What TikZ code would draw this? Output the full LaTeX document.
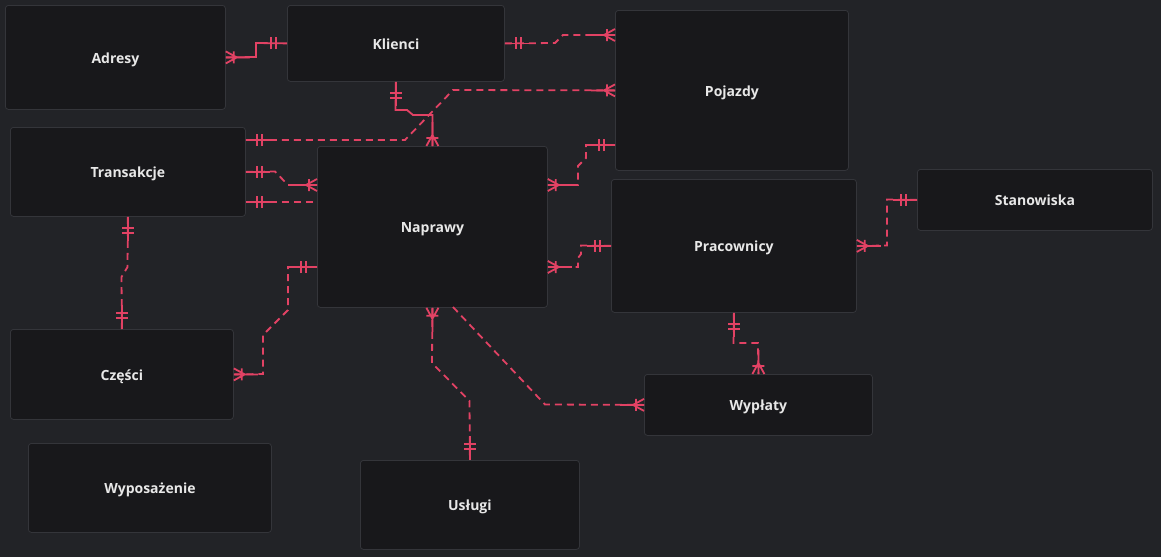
\documentclass[tikz,border=0pt]{standalone}
\usepackage{fontspec}
\setmainfont{Open Sans}
\usetikzlibrary{calc}
\definecolor{bg}{RGB}{34,35,39}
\definecolor{boxfill}{RGB}{24,24,27}
\definecolor{boxline}{RGB}{52,53,58}
\definecolor{relc}{RGB}{226,66,100}
\definecolor{txt}{RGB}{232,232,232}
\tikzset{
  entity/.style={draw=boxline, fill=boxfill, rounded corners=3pt, line width=0.8pt,
    text=txt, font=\fontsize{14}{16}\selectfont\bfseries, inner sep=0pt, anchor=north west,
    text height=12pt, text depth=0pt},
  relsolid/.style={draw=relc, line width=1.8pt},
  reldash/.style={draw=relc, line width=1.8pt, dash pattern=on 7pt off 5pt},
  bars/.pic={\draw[relc, line width=1.8pt, solid] (0,0) -- (24,0) (11,-6) -- (11,6) (16,-6) -- (16,6);},
  crow/.pic={\draw[relc, line width=1.8pt, solid] (0,0) -- (24,0) (11,0) -- (0,-6) (11,0) -- (0,6) (8,-6) -- (8,6);}
}
\begin{document}
\begin{tikzpicture}[x=1pt,y=-1pt]
\fill[bg] (0,0) rectangle (1161,557);
\useasboundingbox (0,0) rectangle (1161,557);

\node[entity, minimum width=220pt, minimum height=104pt] (adresy) at (5,5) {Adresy};
\node[entity, minimum width=217pt, minimum height=76pt] (klienci) at (287,5) {Klienci};
\node[entity, minimum width=233pt, minimum height=160pt] (pojazdy) at (615,10) {Pojazdy};
\node[entity, minimum width=235pt, minimum height=89pt] (transakcje) at (10,127) {Transakcje};
\node[entity, minimum width=230pt, minimum height=161pt] (naprawy) at (317,146) {Naprawy};
\node[entity, minimum width=245pt, minimum height=133pt] (pracownicy) at (611,179) {Pracownicy};
\node[entity, minimum width=235pt, minimum height=61pt] (stanowiska) at (917,169) {Stanowiska};
\node[entity, minimum width=223pt, minimum height=90pt] (czesci) at (10,329) {Części};
\node[entity, minimum width=243pt, minimum height=89pt] (wyposazenie) at (28,443) {Wyposażenie};
\node[entity, minimum width=219pt, minimum height=89pt] (uslugi) at (360,460) {Usługi};
\node[entity, minimum width=228pt, minimum height=61pt] (wyplaty) at (644,374) {Wypłaty};

% Adresy - Klienci
\draw[relsolid] (adresy.east) -- (256,57) -- (256,43) -- (klienci.west);
\pic at (adresy.east) {crow};
\pic[rotate=180] at (klienci.west) {bars};

% Klienci - Pojazdy
\draw[reldash] (klienci.east) -- (555,43) -- (563,35) -- (pojazdy.west |- 0,35);
\pic at (klienci.east) {bars};
\pic[rotate=180] at (pojazdy.west |- 0,35) {crow};

% Klienci - Naprawy
\draw[relsolid] (klienci.south) -- (395.5,110) -- (407,110) -- (413,115) -- (naprawy.north |- 0,115) -- (naprawy.north);
\pic[rotate=270] at (klienci.south) {bars};
\pic[rotate=90] at (naprawy.north) {crow};

% Transakcje - Pojazdy
\draw[reldash] (transakcje.east |- 0,140) -- (405,140) -- (453,90) -- (pojazdy.west);
\pic at (transakcje.east |- 0,140) {bars};
\pic[rotate=180] at (pojazdy.west) {crow};

% Transakcje - Naprawy (1)
\draw[reldash] (transakcje.east) -- (275,171.5) -- (288,185) -- (naprawy.west |- 0,185);
\pic at (transakcje.east) {bars};
\pic[rotate=180] at (naprawy.west |- 0,185) {crow};

% Transakcje - Naprawy (2)
\draw[reldash] (transakcje.east |- 0,202) -- (naprawy.west |- 0,202);
\pic at (transakcje.east |- 0,202) {bars};

% Pojazdy - Naprawy
\draw[reldash] (pojazdy.west |- 0,145) -- (586,145) -- (586,158) -- (578,166) -- (578,185) -- (naprawy.east |- 0,185);
\pic[rotate=180] at (pojazdy.west |- 0,145) {bars};
\pic at (naprawy.east |- 0,185) {crow};

% Pracownicy - Naprawy
\draw[reldash] (pracownicy.west) -- (581,245.5) -- (581,254) -- (578,258) -- (578,267) -- (naprawy.east |- 0,267);
\pic[rotate=180] at (pracownicy.west) {bars};
\pic at (naprawy.east |- 0,267) {crow};

% Stanowiska - Pracownicy
\draw[reldash] (stanowiska.west) -- (887,199.5) -- (887,245.5) -- (pracownicy.east);
\pic[rotate=180] at (stanowiska.west) {bars};
\pic at (pracownicy.east) {crow};

% Transakcje - Czesci
\draw[reldash] (transakcje.south) -- (127.5,267) -- (121.5,277) -- (czesci.north);
\pic[rotate=270] at (transakcje.south) {bars};
\pic[rotate=90] at (czesci.north) {bars};

% Naprawy - Czesci
\draw[reldash] (naprawy.west |- 0,267) -- (288,267) -- (288,310) -- (263,335) -- (263,374) -- (czesci.east);
\pic[rotate=180] at (naprawy.west |- 0,267) {bars};
\pic at (czesci.east) {crow};

% Naprawy - Uslugi
\draw[reldash] (naprawy.south) -- (432,363) -- (469.5,401) -- (uslugi.north);
\pic[rotate=270] at (naprawy.south) {crow};
\pic[rotate=90] at (uslugi.north) {bars};

% Naprawy - Wyplaty
\coordinate (nw) at (453,307);
\draw[reldash] (nw) -- (545,404.5) -- (wyplaty.west);
\pic[rotate=180] at (wyplaty.west) {crow};

% Pracownicy - Wyplaty
\draw[reldash] (pracownicy.south) -- (733.5,343) -- (758,343) -- (wyplaty.north);
\pic[rotate=270] at (pracownicy.south) {bars};
\pic[rotate=90] at (wyplaty.north) {crow};
\end{tikzpicture}
\end{document}
